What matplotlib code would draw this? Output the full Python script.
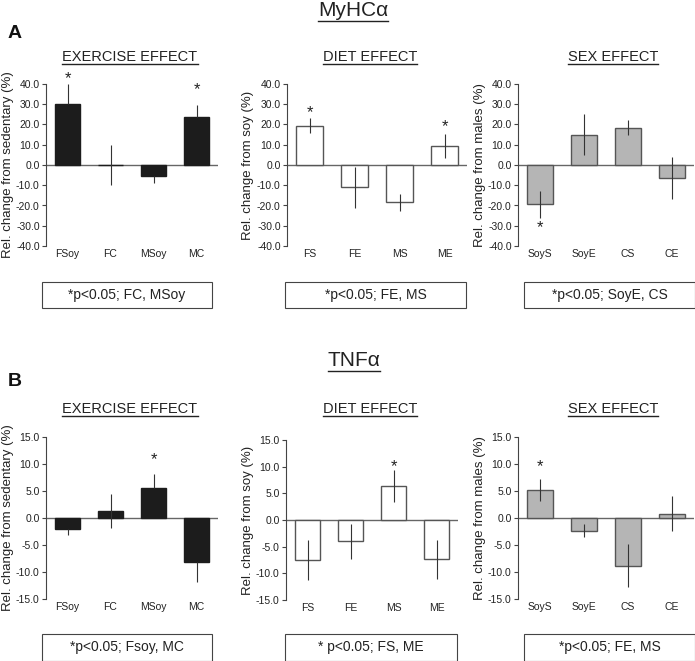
import matplotlib
matplotlib.use("Agg")
import matplotlib.pyplot as plt
from matplotlib.lines import Line2D
from matplotlib.patches import Rectangle

plt.rcParams['font.family'] = ['Liberation Sans', 'DejaVu Sans']

# ---- data ----
ex_labels = ['FSoy', 'FC', 'MSoy', 'MC']
diet_labels = ['FS', 'FE', 'MS', 'ME']
sex_labels = ['SoyS', 'SoyE', 'CS', 'CE']

# MyHC alpha
myhc_ex = [30.0, 0.0, -5.5, 23.5]
myhc_ex_lo = [0.0, 10.0, 3.5, 0.0]
myhc_ex_hi = [10.0, 10.0, 0.0, 6.0]
myhc_ex_star = [42.5, None, None, 37.0]

myhc_diet = [19.5, -11.0, -18.5, 9.5]
myhc_diet_err = [3.7, 10.0, 4.0, 6.0]
myhc_diet_star = [26.0, None, None, 19.0]

myhc_sex = [-19.5, 15.0, 18.3, -6.5]
myhc_sex_err = [6.5, 10.0, 3.7, 10.5]
myhc_sex_star = [-31.0, None, None, None]

# TNF alpha
tnf_ex = [-2.0, 1.3, 5.5, -8.2]
tnf_ex_lo = [1.2, 3.1, 0.0, 3.7]
tnf_ex_hi = [0.0, 3.1, 2.7, 0.0]
tnf_ex_star = [None, None, 10.8, None]

tnf_diet = [-7.5, -4.0, 6.3, -7.4]
tnf_diet_err = [3.7, 3.3, 3.0, 3.7]
tnf_diet_star = [None, None, 10.0, None]

tnf_sex = [5.2, -2.4, -8.8, 0.8]
tnf_sex_err = [2.1, 1.2, 3.9, 3.2]
tnf_sex_star = [9.5, None, None, None]

notes_top = ['*p<0.05; FC, MSoy', '*p<0.05; FE, MS', '*p<0.05; SoyE, CS']
notes_bot = ['*p<0.05; Fsoy, MC', '* p<0.05; FS, ME', '*p<0.05; FE, MS']
effect_titles = ['EXERCISE EFFECT', 'DIET EFFECT', 'SEX EFFECT']

W, H = 695, 661
fig = plt.figure(figsize=(W / 100, H / 100), dpi=100)
TXT = '#222222'


def px_axes(x0, y0, x1, y1):
    return fig.add_axes([x0 / W, 1 - y1 / H, (x1 - x0) / W, (y1 - y0) / H])


def panel(box, labels, vals, lo, hi, stars, face, edge, ylim, ticks, ylabel, ylab_x):
    ax = px_axes(*box)
    x = range(len(vals))
    ax.bar(x, vals, width=0.6, color=face, edgecolor=edge, linewidth=1.0, zorder=2)
    ax.errorbar(x, vals, yerr=[lo, hi], fmt='none', ecolor='#333333',
                elinewidth=0.8, capsize=0, zorder=3)
    ax.axhline(0, color='#666666', lw=1.0, zorder=1)
    for i, s in enumerate(stars):
        if s is not None:
            ax.text(i, s, '*', ha='center', va='center', fontsize=12, color=TXT)
    ax.set_xlim(-0.5, 3.5)
    ax.set_ylim(*ylim)
    ax.set_yticks(ticks)
    ax.set_yticklabels(['%.1f' % t for t in ticks], fontsize=7.5, color=TXT)
    ax.set_xticks(list(x))
    ax.set_xticklabels(labels, fontsize=7.5, color=TXT)
    ax.tick_params(axis='x', length=0, pad=2)
    ax.tick_params(axis='y', length=3, width=0.8, color='#444444', pad=1.5)
    for sp in ['top', 'right', 'bottom']:
        ax.spines[sp].set_visible(False)
    ax.spines['left'].set_color('#444444')
    ax.spines['left'].set_linewidth(0.8)
    ax.set_facecolor('none')
    cy = (box[1] + box[3]) / 2
    fig.text(ylab_x / W, 1 - cy / H, ylabel, rotation=90, ha='center', va='center',
             fontsize=9.5, color=TXT)
    return ax


def underlined(xc, yc, s, size, uy, weight='normal'):
    t = fig.text(xc / W, 1 - yc / H, s, ha='center', va='center', fontsize=size,
                 color=TXT, fontweight=weight)
    fig.canvas.draw()
    bb = t.get_window_extent()
    fig.add_artist(Line2D([bb.x0 / W, bb.x1 / W], [1 - uy / H, 1 - uy / H],
                          color=TXT, lw=1.0, transform=fig.transFigure))


def note(x0, y0, x1, y1, s):
    fig.add_artist(Rectangle((x0 / W, 1 - y1 / H), (x1 - x0) / W, (y1 - y0) / H,
                             transform=fig.transFigure, fill=False,
                             edgecolor='#444444', lw=0.8))
    fig.text((x0 + x1) / 2 / W, 1 - (y0 + y1) / 2 / H, s, ha='center', va='center',
             fontsize=10, color=TXT)


top_lim = (-40, 40)
top_ticks = [40, 30, 20, 10, 0, -10, -20, -30, -40]
bot_lim = (-15, 15)
bot_ticks = [15, 10, 5, 0, -5, -10, -15]

black = '#1c1c1c'
white = 'white'
grey = '#b5b5b5'
edge = '#555555'

# section A: MyHC alpha
panel((46, 84, 218, 246), ex_labels, myhc_ex, myhc_ex_lo, myhc_ex_hi, myhc_ex_star,
      black, black, top_lim, top_ticks, 'Rel. change from sedentary (%)', 8)
panel((287, 84, 467, 246), diet_labels, myhc_diet, myhc_diet_err, myhc_diet_err,
      myhc_diet_star, white, edge, top_lim, top_ticks, 'Rel. change from soy (%)', 248)
panel((518, 84, 694, 246), sex_labels, myhc_sex, myhc_sex_err, myhc_sex_err,
      myhc_sex_star, grey, edge, top_lim, top_ticks, 'Rel. change from males (%)', 480)

# section B: TNF alpha
panel((46, 437, 218, 599), ex_labels, tnf_ex, tnf_ex_lo, tnf_ex_hi, tnf_ex_star,
      black, black, bot_lim, bot_ticks, 'Rel. change from sedentary (%)', 8)
panel((286, 440, 458, 600), diet_labels, tnf_diet, tnf_diet_err, tnf_diet_err,
      tnf_diet_star, white, edge, bot_lim, bot_ticks, 'Rel. change from soy (%)', 248)
panel((518, 437, 694, 599), sex_labels, tnf_sex, tnf_sex_err, tnf_sex_err,
      tnf_sex_star, grey, edge, bot_lim, bot_ticks, 'Rel. change from males (%)', 480)

# headings
underlined(353, 11, 'MyHCα', 15, 21)
underlined(354, 360, 'TNFα', 15, 371)
fig.text(8 / W, 1 - 33 / H, 'A', fontsize=14, fontweight='bold', va='center', color='#111111')
fig.text(8 / W, 1 - 382 / H, 'B', fontsize=14, fontweight='bold', va='center', color='#111111')

for yt in (57, 409):
    for xc, s in zip((130, 370, 613), effect_titles):
        underlined(xc, yt, s, 10.5, yt + 7)

# p-value boxes
for (x0, x1), s in zip([(42, 212), (285, 466), (524, 695)], notes_top):
    note(x0, 282, x1, 308, s)
for (x0, x1), s in zip([(42, 212), (285, 457), (524, 695)], notes_bot):
    note(x0, 634, x1, 661, s)

fig.savefig('out.png', dpi=100)
